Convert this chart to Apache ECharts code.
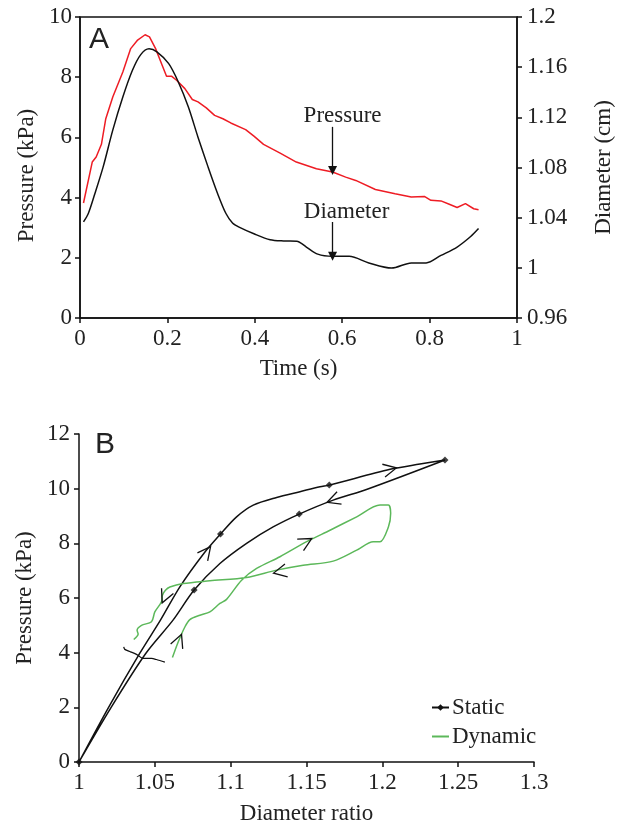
<!DOCTYPE html>
<html>
<head>
<meta charset="utf-8">
<script src="https://cdn.jsdelivr.net/npm/echarts@6/dist/echarts.min.js"></script>
<style>
  html, body { margin: 0; padding: 0; background: #fff; }
  #chart { width: 623px; height: 826px; }
</style>
</head>
<body>
<div id="chart"></div>
<script>
// ---------- Panel A data ----------
const pressTime = [0.008,0.028,0.037,0.049,0.059,0.075,0.098,0.116,0.131,0.149,0.159,0.173,0.188,0.198,0.210,0.221,0.240,0.257,0.270,0.289,0.308,0.327,0.345,0.379,0.398,0.420,0.458,0.495,0.541,0.578,0.608,0.631,0.676,0.721,0.758,0.788,0.803,0.826,0.845,0.863,0.882,0.901,0.912];
const pressKPa  = [3.82,5.18,5.35,5.77,6.62,7.34,8.17,8.95,9.22,9.41,9.34,8.95,8.40,8.03,8.03,7.90,7.62,7.26,7.18,6.98,6.73,6.62,6.48,6.26,6.04,5.77,5.48,5.18,4.96,4.85,4.68,4.57,4.27,4.13,4.02,4.04,3.91,3.89,3.78,3.67,3.80,3.63,3.60];
const diamTime = [0.008,0.019,0.034,0.053,0.075,0.098,0.120,0.139,0.158,0.176,0.203,0.225,0.248,0.270,0.293,0.315,0.334,0.349,0.364,0.398,0.435,0.466,0.496,0.518,0.544,0.578,0.616,0.661,0.713,0.758,0.792,0.826,0.863,0.894,0.912];
const diamCm   = [1.0366,1.0433,1.0591,1.0805,1.1098,1.1362,1.1575,1.1700,1.1746,1.1722,1.1628,1.1482,1.1282,1.1042,1.0805,1.0591,1.0433,1.0358,1.0325,1.0272,1.0224,1.0214,1.0212,1.0166,1.0109,1.0092,1.0092,1.0039,0.9998,1.0039,1.0039,1.0099,1.0166,1.0250,1.0313];
// annotation arrows (time, top pressure, tip pressure)
const annoLabels = ['Pressure', 'Diameter'];
const annoTime = [0.578, 0.578];
const annoFrom = [6.35, 3.19];
const annoTo   = [4.90, 2.05];

// ---------- Panel B data ----------
const staticRatio = [1.000,1.0195,1.040,1.0537,1.0665,1.0823,1.0933,1.1039,1.1149,1.1303,1.1457,1.1589,1.165,1.2051,1.2248,1.2413,1.190,1.1676,1.1452,1.128,1.1105,1.0929,1.0759,1.062,1.044,1.0212,1.000];
const staticKPa   = [0,2.0,3.97,5.19,6.41,7.63,8.34,8.97,9.40,9.68,9.89,10.07,10.13,10.71,10.90,11.05,9.98,9.58,9.07,8.60,8.00,7.26,6.29,5.19,3.97,2.0,0];
const staticMarkRatio = [1.0, 1.0759, 1.0933, 1.1452, 1.165, 1.2413];
const staticMarkKPa   = [0, 6.29, 8.34, 9.07, 10.13, 11.05];
const wiggleRatio = [1.0295,1.0302,1.0339,1.0379,1.0422,1.0478,1.051,1.0566];
const wiggleKPa   = [4.21,4.12,4.03,3.94,3.79,3.79,3.75,3.65];
const dynRatio = [1.0616,1.0654,1.0698,1.0731,1.0797,1.0863,1.0929,1.0973,1.1072,1.1171,1.1325,1.1501,1.1655,1.1831,1.1985,1.2040,1.2055,1.2040,1.1985,1.1940,1.1831,1.1676,1.1478,1.1303,1.1105,1.0863,1.0686,1.0599,1.0570,1.0550,1.0544,1.0500,1.0478,1.0412,1.0383,1.0390,1.0361];
const dynKPa   = [3.82,4.39,4.94,5.21,5.37,5.49,5.80,5.95,6.65,7.08,7.51,8.06,8.48,8.97,9.40,9.40,9.10,8.60,8.06,8.06,7.75,7.35,7.20,7.02,6.75,6.63,6.53,6.40,6.28,6.10,5.86,5.49,5.13,5.00,4.82,4.68,4.48];
// direction chevrons: [ratio, kPa, direction deg]
const staticArrows = [[1.0841,7.69,52],[1.2051,10.71,12],[1.1676,9.58,200]];
const dynArrows    = [[1.0660,4.45,68],[1.1497,8.06,29],[1.1325,6.96,192],[1.0566,6.04,246]];

const zip = (a, b) => a.map((v, i) => [v, b[i]]);
const SERIF = "'Liberation Serif','Times New Roman',serif";
const FS = 23;
const TXT = '#222';
const axisLine = { show: true, lineStyle: { color: '#111', width: 1.5 } };
const axisTick = { show: true, length: 5, lineStyle: { color: '#111', width: 1.5 } };
const lbl = (extra) => Object.assign({ fontFamily: SERIF, fontSize: FS, color: TXT }, extra || {});
const nameStyle = { fontFamily: SERIF, fontSize: FS, color: TXT };
const chevron = 'path://M0,0L10,5L0,10';
const chevronPoints = (arr) => arr.map(a => ({ coord: [a[0], a[1]], symbolRotate: a[2] }));
const annoOffsets = [[10, 4], [14, 4]];

const chart = echarts.init(document.getElementById('chart'), null, { renderer: 'canvas' });
chart.setOption({
  animation: false,
  backgroundColor: '#fff',
  grid: [
    { left: 80, top: 17, width: 444, height: 301, show: true, borderColor: '#111', borderWidth: 1.5, backgroundColor: 'transparent' },
    { left: 79, top: 434, width: 455, height: 328 }
  ],
  xAxis: [
    { gridIndex: 0, type: 'value', min: 0, max: 1, interval: 0.2,
      name: 'Time (s)', nameLocation: 'middle', nameGap: 39, nameTextStyle: nameStyle,
      axisLine, axisTick, splitLine: { show: false },
      axisLabel: lbl({ margin: 9 }) },
    { gridIndex: 1, type: 'value', min: 1, max: 1.3, interval: 0.05,
      name: 'Diameter ratio', nameLocation: 'middle', nameGap: 40, nameTextStyle: nameStyle,
      axisLine, axisTick, splitLine: { show: false },
      axisLabel: lbl({ margin: 9, formatter: v => String(+v.toFixed(2)) }) }
  ],
  yAxis: [
    { gridIndex: 0, type: 'value', min: 0, max: 10, interval: 2,
      name: 'Pressure (kPa)', nameLocation: 'middle', nameGap: 41,
      nameTextStyle: Object.assign({ padding: [0, 16, 0, 0] }, nameStyle),
      axisLine, axisTick, splitLine: { show: false },
      axisLabel: lbl({ margin: 8 }) },
    { gridIndex: 0, type: 'value', position: 'right', min: 0.96, max: 1.2, interval: 0.04,
      name: 'Diameter (cm)', nameLocation: 'middle', nameGap: 75, nameRotate: 90, nameTextStyle: nameStyle,
      axisLine, axisTick, splitLine: { show: false },
      axisLabel: lbl({ margin: 10, formatter: v => String(+v.toFixed(2)) }) },
    { gridIndex: 1, type: 'value', min: 0, max: 12, interval: 2,
      name: 'Pressure (kPa)', nameLocation: 'middle', nameGap: 41, nameTextStyle: nameStyle,
      axisLine, axisTick, splitLine: { show: false },
      axisLabel: lbl({ margin: 9 }) }
  ],
  legend: {
    data: ['Static', { name: 'Dynamic', itemStyle: { opacity: 0 } }],
    orient: 'vertical', left: 426, top: 691, itemGap: 6,
    itemWidth: 17, itemHeight: 8,
    textStyle: { fontFamily: SERIF, fontSize: FS, color: TXT, padding: [0, 0, 0, -2] }
  },
  graphic: [
    { type: 'text', left: 89, top: 25, style: { text: 'A', font: "30px 'Liberation Sans', Arial, sans-serif", fill: '#222' } },
    { type: 'text', left: 95, top: 430, style: { text: 'B', font: "30px 'Liberation Sans', Arial, sans-serif", fill: '#222' } }
  ],
  series: [
    { name: 'Pressure', type: 'line', xAxisIndex: 0, yAxisIndex: 0, data: zip(pressTime, pressKPa),
      symbol: 'none', lineStyle: { color: '#ee1c24', width: 1.5 }, itemStyle: { color: '#ee1c24' },
      markLine: {
        silent: true, symbol: ['none', 'triangle'], symbolSize: 9,
        lineStyle: { color: '#111', width: 1.3, type: 'solid' },
        itemStyle: { color: '#111' },
        label: { show: true, position: 'start', distance: 3, formatter: '{b}', fontFamily: SERIF, fontSize: FS, color: TXT },
        data: annoLabels.map((n, i) => [
          { name: n, coord: [annoTime[i], annoFrom[i]], label: { offset: annoOffsets[i] } },
          { coord: [annoTime[i], annoTo[i]] }
        ])
      } },
    { name: 'Diameter', type: 'line', xAxisIndex: 0, yAxisIndex: 1, data: zip(diamTime, diamCm),
      symbol: 'none', smooth: 0.3, lineStyle: { color: '#111', width: 1.5 }, itemStyle: { color: '#111' } },
    { name: 'Static', type: 'line', xAxisIndex: 1, yAxisIndex: 2, data: zip(staticRatio, staticKPa),
      symbol: 'diamond', showSymbol: false, smooth: 0.3, lineStyle: { color: '#111', width: 1.5 }, itemStyle: { color: '#111' },
      markPoint: { silent: true, symbol: chevron, symbolSize: [13, 13], label: { show: false },
        itemStyle: { color: 'rgba(0,0,0,0)', borderColor: '#111', borderWidth: 1.3 },
        data: chevronPoints(staticArrows) } },
    { name: 'Static', type: 'scatter', xAxisIndex: 1, yAxisIndex: 2, data: zip(staticMarkRatio, staticMarkKPa),
      symbol: 'diamond', symbolSize: 7, itemStyle: { color: '#111' }, z: 5 },
    { name: 'Static', type: 'line', xAxisIndex: 1, yAxisIndex: 2, data: zip(wiggleRatio, wiggleKPa),
      symbol: 'none', smooth: 0.3, lineStyle: { color: '#111', width: 1.3 }, itemStyle: { color: '#111' } },
    { name: 'Dynamic', type: 'line', xAxisIndex: 1, yAxisIndex: 2, data: zip(dynRatio, dynKPa),
      symbol: 'none', smooth: 0.3, lineStyle: { color: '#5cb85a', width: 1.5 }, itemStyle: { color: '#5cb85a' },
      markPoint: { silent: true, symbol: chevron, symbolSize: [13, 13], label: { show: false },
        itemStyle: { color: 'rgba(0,0,0,0)', borderColor: '#111', borderWidth: 1.3 },
        data: chevronPoints(dynArrows) } }
  ]
});
</script>
</body>
</html>
